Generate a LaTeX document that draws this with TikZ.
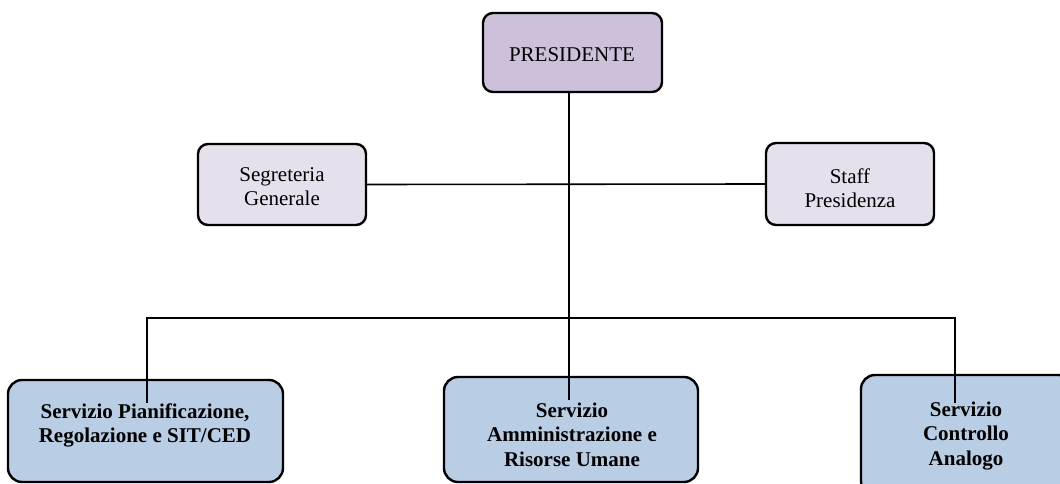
\documentclass[tikz,border=0pt]{standalone}
\usepackage{fontspec}
\setmainfont{Liberation Serif}
\definecolor{presfill}{HTML}{CCC0DA}
\definecolor{lightfill}{HTML}{E5E0EC}
\definecolor{bluefill}{HTML}{B9CDE5}
\tikzset{
  box/.style={draw=black, line width=2.4pt, rounded corners=#1, inner sep=0pt},
  box/.default=10pt,
  conn/.style={draw=black, line width=1.6pt},
  txt/.style={inner sep=0pt, align=center, font=\fontsize{21}{24}\selectfont},
  btxt/.style={inner sep=0pt, align=center, font=\fontsize{21}{24.3}\selectfont\bfseries},
}
\begin{document}
\begin{tikzpicture}[x=1pt,y=-1pt]
\useasboundingbox (0,0) rectangle (1060,484);
\clip (0,0) rectangle (1060,484);
% boxes
\node[box, fill=presfill, minimum width=179pt, minimum height=79pt] (pres) at (572.5,52.5) {};
\node[box, fill=lightfill, minimum width=168pt, minimum height=81pt] (segr) at (282,184.5) {};
\node[box, fill=lightfill, minimum width=168pt, minimum height=82pt] (staff) at (850,184) {};
\node[box=14pt, fill=bluefill, minimum width=275pt, minimum height=102pt] (s1) at (145.5,431) {};
\node[box=14pt, fill=bluefill, minimum width=254pt, minimum height=105pt] (s2) at (571,429.5) {};
\node[box=14pt, fill=bluefill, minimum width=212pt, minimum height=120pt] (s3) at (967,435) {};
% texts
\node[txt] (tpres) at (572,55) {PRESIDENTE};
\node[txt, anchor=north] (tsegr) at (282,167.8) {Segreteria\\Generale};
\node[txt, anchor=north] (tstaff) at (850,168.5) {Staff\\Presidenza};
\node[btxt, anchor=north] (ts1) at (145,403.5) {Servizio Pianificazione,\\Regolazione e SIT/CED};
\node[btxt, anchor=north] (ts2) at (572,402.8) {Servizio\\Amministrazione e\\Risorse Umane};
\node[btxt, anchor=north] (ts3) at (966,401.8) {Servizio\\Controllo\\Analogo};
% connector ends
\coordinate (midEnd) at (569,400);
\coordinate (lEnd) at (147,403);
\coordinate (rEnd) at (955,403);
\coordinate (busL) at (147,318);
% connectors
\draw[conn] (pres.south -| midEnd) -- (midEnd);
\draw[conn] (segr.east) -- (staff.west);
\draw[conn] (lEnd) -- (busL) -| (rEnd);
\end{tikzpicture}
\end{document}
